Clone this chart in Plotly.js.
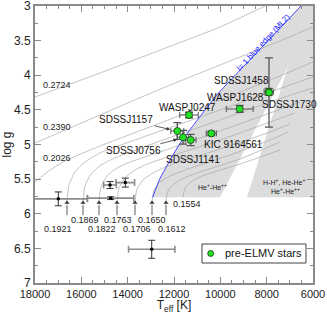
<!DOCTYPE html>
<html>
<head>
<meta charset="utf-8">
<script src="https://cdn.plot.ly/plotly-3.0.1.min.js"></script>
<style>html,body{margin:0;padding:0;background:#fff;}#chart{width:327px;height:314px;}</style>
</head>
<body>
<div id="chart"></div>
<script>
// ---- pre-ELMV stars (green) ----
const starNames = ['WASPJ0247','SDSSJ1157','SDSSJ0756','SDSSJ1141','KIC 9164561','WASPJ1628','SDSSJ1458','SDSSJ1730'];
const starTeff  = [11352, 11857, 11611, 11279, 10389, 9163, 7911, 7900];
const starLogg  = [4.574, 4.805, 4.896, 4.935, 4.84, 4.487, 4.24, 4.25];
const starTeffErr = [400, 280, 250, 230, 220, 580, 200, 0];
const starLoggErr = [0.04, 0.12, 0.1, 0.08, 0.03, 0.05, 0.05, 0.5];

// ---- other stars (black) ----
const otherTeff = [16994, 14732, 14762, 14102, 12962];
const otherLogg = [5.785, 5.775, 5.585, 5.55, 6.513];
const otherTeffErr = [1250, 1000, 275, 400, 1000];
const otherLoggErr = [0.1, 0.02, 0.05, 0.065, 0.13];

// ---- l=1 blue edge (ML2) ----
const edgeTeff = [12919, 12604, 11740, 10087, 9008, 6517];
const edgeLogg = [5.76, 5.49, 4.983, 4.26, 3.877, 3.0];

// ---- shaded instability region ----
const regionTeff = [12919, 12604, 11740, 10087, 9008, 6517, 6000, 6000, 8848, 7078, 10013, 12919];
const regionLogg = [5.76, 5.49, 4.983, 4.26, 3.877, 3.0, 3.0, 5.76, 5.76, 3.87, 5.76, 5.76];

// ---- evolutionary tracks (masses in Msun) ----
const t2724Teff = [18000, 15194, 12474, 10014, 8071];
const t2724Logg = [4.314, 3.968, 3.621, 3.303, 3.0];
const t2390Teff = [18000, 15194, 12474, 10014, 7855, 6000];
const t2390Logg = [4.978, 4.574, 4.184, 3.852, 3.563, 3.303];
const t2026Teff = [18000, 17352, 16619, 15194, 12474, 10014, 7855, 6000];
const t2026Logg = [5.542, 5.368, 5.224, 5.022, 4.675, 4.357, 4.069, 3.809];
const t1921Teff = [16619, 16532, 16273, 15842, 15194, 12474, 10014, 7855, 6000];
const t1921Logg = [5.816, 5.585, 5.397, 5.253, 5.123, 4.791, 4.502, 4.242, 4.025];
const t1869Teff = [15928, 15842, 15583, 15151, 14547, 12474, 10014, 7855, 6000];
const t1869Logg = [5.816, 5.599, 5.426, 5.296, 5.195, 4.935, 4.646, 4.386, 4.184];
const t1822Teff = [15237, 15151, 14892, 14460, 13899, 12474, 10014, 7855, 6561];
const t1822Logg = [5.816, 5.614, 5.455, 5.339, 5.253, 5.094, 4.805, 4.545, 4.386];
const t1763Teff = [14460, 14374, 14115, 13683, 13036, 11741, 10014, 7855, 6777];
const t1763Logg = [5.816, 5.628, 5.484, 5.368, 5.267, 5.123, 4.935, 4.675, 4.545];
const t1706Teff = [13683, 13597, 13338, 12906, 12258, 10014, 7855, 6992];
const t1706Logg = [5.816, 5.643, 5.513, 5.412, 5.310, 5.065, 4.819, 4.704];
const t1650Teff = [12949, 12863, 12604, 12172, 11525, 9582, 7855, 7078];
const t1650Logg = [5.816, 5.657, 5.542, 5.455, 5.368, 5.152, 4.935, 4.819];
const t1612Teff = [12345, 12258, 11999, 11568, 10877, 9150, 7423];
const t1612Logg = [5.816, 5.671, 5.570, 5.484, 5.397, 5.209, 4.964];
const t1554Teff = [11611, 11525, 11222, 10661, 9150, 7423];
const t1554Logg = [5.76, 5.628, 5.527, 5.440, 5.282, 5.079];
const trackTeffs = [t2724Teff, t2390Teff, t2026Teff, t1921Teff, t1869Teff, t1822Teff, t1763Teff, t1706Teff, t1650Teff, t1612Teff, t1554Teff];
const trackLoggs = [t2724Logg, t2390Logg, t2026Logg, t1921Logg, t1869Logg, t1822Logg, t1763Logg, t1706Logg, t1650Logg, t1612Logg, t1554Logg];

// ---- track labels ----
const massLabels = ['0.2724','0.2390','0.2026','0.1921','0.1869','0.1822','0.1763','0.1706','0.1650','0.1612','0.1554'];
const massLabelTeff = [17050, 17050, 17050, 16994, 15842, 15108, 14417, 13597, 12949, 12100, 11438];
const massLabelLogg = [4.14, 4.75, 5.19, 6.22, 6.09, 6.22, 6.09, 6.22, 6.09, 6.22, 5.86];
const arrowTeff = [16619, 15928, 15237, 14460, 13683, 12949, 12345];
const arrowTipLogg = 5.84;
const arrowTailLogg = 6.02;

// ---- star label positions ----
const nameLabels = ['SDSSJ1157','SDSSJ0756','SDSSJ1141','KIC 9164561','WASPJ0247','WASPJ1628','SDSSJ1458','SDSSJ1730'];
const nameTeff = [14072, 13769, 11179, 9452, 11438, 9366, 9107, 7035];
const nameLogg = [4.632, 5.09, 5.21, 5.007, 4.466, 4.321, 4.079, 4.425];
const nameArrowTeff = [12086, 11783, null, null, null, null, null, null];
const nameArrowLogg = [4.79, 4.92, null, null, null, null, null, null];

const regionTexts = ['He<sup>+</sup>-He<sup>++</sup>', 'H-H<sup>+</sup>, He-He<sup>+</sup>', 'He<sup>+</sup>-He<sup>++</sup>'];
const regionTextTeff = [10359, 7251, 7208];
const regionTextLogg = [5.609, 5.537, 5.667];

const yTickVals = [3, 3.5, 4, 4.5, 5, 5.5, 6, 6.5, 7];
const xTickVals = [18000, 16000, 14000, 12000, 10000, 8000, 6000];
const legendLabel = 'pre-ELMV stars';

const FONT = 'Liberation Sans, Arial, Helvetica, sans-serif';
const GREEN = '#22e022';
const traces = [];

traces.push({
  x: regionTeff, y: regionLogg, mode: 'lines', fill: 'toself',
  fillcolor: '#dcdcdc', line: {width: 0, color: 'rgba(0,0,0,0)'},
  hoverinfo: 'skip', showlegend: false
});
for (let i = 0; i < trackTeffs.length; i++) {
  traces.push({
    x: trackTeffs[i], y: trackLoggs[i], mode: 'lines',
    line: {color: '#a8a8a8', width: 0.7, shape: 'spline', smoothing: 0.6},
    hoverinfo: 'skip', showlegend: false
  });
}
// arrow shafts + heads marking track ends
const shaftX = [], shaftY = [];
arrowTeff.forEach(t => { shaftX.push(t, t, null); shaftY.push(arrowTailLogg, arrowTipLogg + 0.03, null); });
traces.push({x: shaftX, y: shaftY, mode: 'lines', line: {color: '#333', width: 0.8},
  hoverinfo: 'skip', showlegend: false});
traces.push({x: arrowTeff, y: arrowTeff.map(() => arrowTipLogg), mode: 'markers',
  marker: {symbol: 'triangle-up', size: 4.5, color: '#333'}, hoverinfo: 'skip', showlegend: false});

traces.push({
  x: edgeTeff, y: edgeLogg, mode: 'lines',
  line: {color: '#3030ff', width: 0.9, shape: 'spline', smoothing: 0.5},
  hoverinfo: 'skip', showlegend: false
});
traces.push({
  x: otherTeff, y: otherLogg, mode: 'markers',
  marker: {color: '#000', size: 3.5},
  error_x: {type: 'data', array: otherTeffErr, color: '#8c8c8c', thickness: 1.6, width: 3.5},
  error_y: {type: 'data', array: otherLoggErr, color: '#333', thickness: 1, width: 3.5},
  showlegend: false
});
traces.push({
  x: starTeff, y: starLogg, mode: 'markers', name: legendLabel,
  marker: {color: GREEN, size: 7, line: {color: '#1a3a1a', width: 0.8}},
  error_x: {type: 'data', array: starTeffErr, color: '#555', thickness: 1, width: 3},
  error_y: {type: 'data', array: starLoggErr, color: '#555', thickness: 1.3, width: 4},
  showlegend: false
});

const annotations = [];
for (let i = 0; i < massLabels.length; i++) {
  annotations.push({x: massLabelTeff[i], y: massLabelLogg[i], text: massLabels[i], showarrow: false,
    font: {family: FONT, size: 9, color: '#222'}});
}
for (let i = 0; i < nameLabels.length; i++) {
  if (nameArrowTeff[i] !== null) {
    annotations.push({x: nameArrowTeff[i], y: nameArrowLogg[i], ax: nameTeff[i], ay: nameLogg[i],
      axref: 'x', ayref: 'y', text: nameLabels[i], showarrow: true, arrowhead: 2, arrowsize: 0.9,
      arrowwidth: 0.8, arrowcolor: '#333', standoff: 2,
      font: {family: FONT, size: 10, color: '#111'}});
  } else {
    annotations.push({x: nameTeff[i], y: nameLogg[i], text: nameLabels[i], showarrow: false,
      font: {family: FONT, size: 10, color: '#111'}});
  }
}
for (let i = 0; i < regionTexts.length; i++) {
  annotations.push({x: regionTextTeff[i], y: regionTextLogg[i], text: regionTexts[i], showarrow: false,
    font: {family: FONT, size: 7, color: '#222'}});
}
annotations.push({x: 8150, y: 3.52, text: 'l= 1 blue edge (ML2)', showarrow: false, textangle: -47,
  font: {family: FONT, size: 8, color: '#2020ff'}});
// legend text
annotations.push({xref: 'paper', yref: 'paper', x: 0.676, y: 0.1066, xanchor: 'left', yanchor: 'middle',
  text: legendLabel, showarrow: false, font: {family: FONT, size: 11, color: '#111'}});

const shapes = [
  {type: 'rect', xref: 'paper', yref: 'paper', x0: 0.6007, x1: 0.9748, y0: 0.0722, y1: 0.1408,
   line: {color: '#444', width: 1}, fillcolor: '#fff', layer: 'above'},
  {type: 'circle', xref: 'paper', yref: 'paper', x0: 0.6212, x1: 0.6428, y0: 0.0958, y1: 0.1174,
   line: {color: '#1a3a1a', width: 0.8}, fillcolor: GREEN, layer: 'above'}
];

const axisCommon = {
  showline: true, linecolor: '#8a8a8a', linewidth: 2, mirror: 'ticks',
  ticks: 'inside', tickcolor: '#8a8a8a', tickwidth: 1, ticklen: 6,
  showgrid: false, zeroline: false, ticklabeloverflow: 'allow', tickmode: 'array'
};

const layout = {
  width: 327, height: 314,
  margin: {l: 35, r: 14, t: 6, b: 31},
  paper_bgcolor: '#fff', plot_bgcolor: '#fff',
  font: {family: FONT, color: '#222'},
  showlegend: false,
  xaxis: Object.assign({}, axisCommon, {
    range: [18000, 6000], tickvals: xTickVals, ticktext: xTickVals.map(String),
    minor: {dtick: 500, ticks: 'inside', ticklen: 3, tickcolor: '#8a8a8a'},
    tickfont: {family: FONT, size: 11, color: '#222'},
    title: {text: 'T<sub>eff</sub> [K]', font: {family: FONT, size: 12, color: '#222'}, standoff: 3}
  }),
  yaxis: Object.assign({}, axisCommon, {
    range: [7, 3], tickvals: yTickVals, ticktext: yTickVals.map(String),
    minor: {dtick: 0.25, ticks: 'inside', ticklen: 3, tickcolor: '#8a8a8a'},
    tickfont: {family: FONT, size: 12, color: '#222'},
    title: {text: 'log g', font: {family: FONT, size: 12, color: '#222'}, standoff: 2}
  }),
  shapes: shapes,
  annotations: annotations
};

Plotly.newPlot('chart', traces, layout, {staticPlot: true, displayModeBar: false});
</script>
</body>
</html>
